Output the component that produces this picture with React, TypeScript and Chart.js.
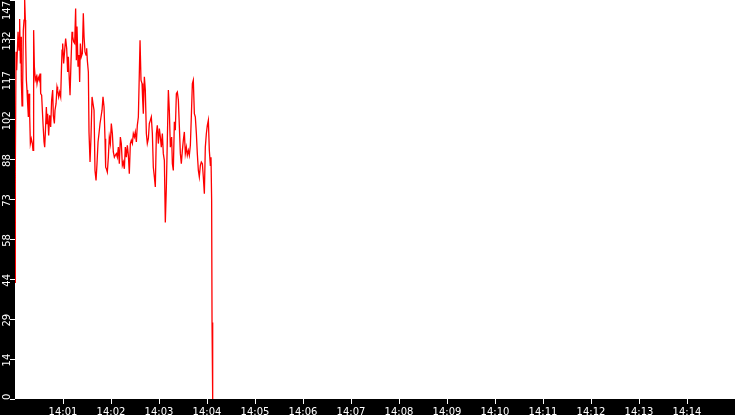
import { useEffect, useRef } from "react";
import { Chart, registerables, Plugin } from "chart.js";

Chart.register(...registerables);

// seconds after 14:00:00
const sampleSeconds = [
  0, 0.4, 1.3, 2.1, 2.9, 3.8, 5, 5.8, 6.7, 7.5, 7.9, 8.8, 9.6, 10.4, 11.3, 12.1, 12.9, 13.3, 14.2, 15,
  15.8, 16.7, 17.5, 18.3, 19.2, 20.4, 21.7, 22.5, 23.3, 24.2, 25.4, 26.7, 27.5, 28.8, 30, 31.3, 32.1, 33.3, 34.2, 35,
  36.3, 37.1, 37.9, 39.2, 40, 40.8, 42.1, 43.3, 44.6, 45.8, 47.1, 47.9, 49.2, 50, 51.3, 52.5, 53.3, 54.6, 55.8, 57.1,
  57.9, 58.8, 59.6, 60.8, 62.1, 63.3, 64.6, 65.8, 66.7, 67.9, 68.8, 70, 71.3, 72.1, 73.3, 74.6, 75.8, 76.7, 77.5, 78.8,
  80, 80.8, 81.7, 82.9, 84.2, 85.4, 86.3, 87.5, 88.8, 89.6, 90.4, 91.7, 92.5, 93.8, 95, 96.3, 97.5, 98.8, 100, 101.3,
  102.5, 103.8, 105, 106.3, 107.5, 108.8, 110, 111.3, 112.5, 113.3, 114.2, 115.4, 116.7, 117.9, 119.2, 120.4, 121.7, 122.9, 124.2, 125.4,
  126.7, 127.9, 129.2, 130.4, 131.7, 132.9, 134.2, 135.4, 136.7, 137.9, 139.2, 140.4, 141.7, 142.9, 144.2, 145.4, 146.7, 147.9, 149.2, 150.4,
  151.7, 152.9, 154.2, 155.4, 156.3, 157.5, 158.8, 159.6, 160.4, 161.7, 162.9, 164.2, 165.4, 166.7, 167.9, 169.2, 170.4, 171.7, 172.9, 174.2,
  175.4, 176.7, 177.9, 179.2, 180.4, 181.7, 182.9, 184.2, 185.4, 186.7, 187.9, 189.2, 190.4, 191.7, 192.9, 194.2, 195.8, 196.7, 197.9, 199.2,
  200.4, 201.7, 202.9, 204.2, 205.4, 206.7, 207.9, 209.2, 210.4, 211.7, 212.9, 214.2, 215.4, 216.7, 217.9, 219.2, 220.4, 221.7, 222.9, 224.2,
  225.4, 226.7, 227.9, 229.2, 230.4, 231.7, 232.9, 234.2, 235.4, 236.7, 237.9, 239.2, 240.4, 241.7, 242.9, 244.2, 245, 245.8, 246.3, 247.1,
];

const sampleValues = [
  43, 85.4, 127.9, 121.1, 127.9, 135.3, 128.5, 140, 123.6, 133.5, 117.5, 108, 116.2, 135.9, 139.6, 147, 139.6, 132.2, 117.5, 113.8,
  108.8, 103.9, 112.5, 105.1, 94.1, 95.9, 94.1, 91.6, 135.9, 122.4, 117.5, 118.7, 116.2, 118.7, 117.5, 119.9, 112.5, 111.9, 106.4, 101.5,
  94.7, 92.8, 97.8, 107.6, 101.5, 105.1, 97.1, 104.5, 100.2, 110.1, 113.8, 104.5, 101.5, 106.4, 108.8, 115, 113.8, 111.3, 113.1, 111.3,
  119.9, 128.5, 131, 123.6, 128.5, 132.8, 129.2, 120.5, 126.1, 117.5, 111.9, 124.2, 135.3, 133.5, 131.6, 131, 143.9, 124.8, 137.2, 122.4,
  126.7, 116.8, 131, 126.1, 127.3, 142.1, 133.5, 127.9, 126.7, 129.2, 124.8, 120.5, 98.4, 87.3, 96.5, 111.3, 108.8, 106.4, 84.2, 80.5,
  86.7, 94.7, 97.8, 101.5, 103.9, 106.4, 111.3, 107.6, 95.9, 85.4, 84.8, 83.6, 89.1, 96.5, 94.1, 101.5, 97.8, 91, 89.1, 89.8,
  90.4, 89.1, 92.8, 86.7, 96.5, 94.1, 86.1, 87.3, 84.8, 92.8, 89.1, 93.5, 89.8, 83, 94.1, 95.3, 94.1, 97.8, 96.5, 98.4,
  94.7, 100.8, 103.9, 119.9, 132.2, 117.5, 116.2, 110.1, 105.1, 118.7, 113.8, 97.8, 94.1, 95.9, 101.5, 102.7, 103.9, 97.8, 85.4, 81.8,
  78.1, 97.8, 100.8, 94.1, 99.6, 96.5, 92.8, 97.8, 90.4, 87.9, 65, 78.1, 95.3, 113.8, 106.4, 92.8, 96.5, 86.7, 84.2, 102.1,
  99, 112.5, 113.1, 110.1, 100.8, 90.4, 86.7, 91.6, 95.3, 98.4, 90.4, 92.8, 89.8, 91.6, 89.8, 93.5, 103.9, 116.2, 117.5, 105.1,
  103.9, 97.8, 90.4, 84.2, 81.8, 86.1, 87.3, 86.7, 81.8, 75.6, 92.8, 97.8, 100.8, 102.7, 91.6, 86.1, 89.1, 73.1, 28.2, 0,
];

const xTickSeconds = [60, 120, 180, 240, 300, 360, 420, 480, 540, 600, 660, 720, 780, 840];
const xTickLabels = [
  "14:01", "14:02", "14:03", "14:04", "14:05", "14:06", "14:07",
  "14:08", "14:09", "14:10", "14:11", "14:12", "14:13", "14:14",
];
const yTickValues = [0, 14.7, 29.4, 44.1, 58.8, 73.5, 88.2, 102.9, 117.6, 132.3, 147];
const yTickLabels = ["0", "14", "29", "44", "58", "73", "88", "102", "117", "132", "147"];

const FONT = "'DejaVu Sans', sans-serif";
const FONT_SIZE = 10;

// black page, white plotting area
const backdrop: Plugin<"line"> = {
  id: "backdrop",
  beforeDraw(chart) {
    const { ctx, chartArea, width, height } = chart;
    ctx.save();
    ctx.fillStyle = "#000";
    ctx.fillRect(0, 0, width, height);
    ctx.fillStyle = "#fff";
    ctx.fillRect(chartArea.left, chartArea.top, chartArea.right - chartArea.left, chartArea.bottom - chartArea.top);
    ctx.restore();
  },
};

// rotated y labels, kept inside the plot height
const yLabels: Plugin<"line"> = {
  id: "yLabels",
  afterDraw(chart) {
    const { ctx, chartArea } = chart;
    const scale = chart.scales.y;
    ctx.save();
    ctx.font = `${FONT_SIZE}px ${FONT}`;
    ctx.fillStyle = "#fff";
    ctx.textAlign = "center";
    ctx.textBaseline = "alphabetic";
    yTickValues.forEach((v, i) => {
      const text = yTickLabels[i];
      const half = ctx.measureText(text).width / 2;
      let y = scale.getPixelForValue(v) + 1;
      y = Math.min(Math.max(y, chartArea.top + 1 + half), chartArea.bottom + 1 - half);
      ctx.save();
      ctx.translate(chartArea.left - 5.5, y);
      ctx.rotate(-Math.PI / 2);
      ctx.fillText(text, 0, 0);
      ctx.restore();
    });
    ctx.restore();
  },
};

const App: React.FC = () => {
  const canvasRef = useRef<HTMLCanvasElement | null>(null);

  useEffect(() => {
    const canvas = canvasRef.current;
    let chart: Chart | null = null;

    if (canvas) {
      chart = new Chart(canvas, {
        type: "line",
        data: {
          datasets: [
            {
              data: sampleSeconds.map((s, i) => ({ x: s, y: sampleValues[i] })),
              borderColor: "#ff0000",
              borderWidth: 1.3,
              pointRadius: 0,
              tension: 0,
              fill: false,
            },
          ],
        },
        options: {
          animation: false,
          responsive: true,
          maintainAspectRatio: false,
          layout: { padding: 0 },
          plugins: {
            legend: { display: false },
            tooltip: { enabled: false },
          },
          scales: {
            x: {
              type: "linear",
              min: 0,
              max: 900,
              afterBuildTicks: (scale) => {
                scale.ticks = xTickSeconds.map((value) => ({ value }));
              },
              afterFit: (scale) => {
                scale.height = 16;
              },
              grid: { drawOnChartArea: false, color: "#fff", tickLength: 5 },
              border: { display: false },
              ticks: {
                color: "#fff",
                font: { family: FONT, size: FONT_SIZE },
                padding: 2,
                maxRotation: 0,
                autoSkip: false,
                callback: (value) => xTickLabels[xTickSeconds.indexOf(Number(value))],
              },
            },
            y: {
              min: 0,
              max: 147,
              afterBuildTicks: (scale) => {
                scale.ticks = yTickValues.map((value) => ({ value }));
              },
              afterFit: (scale) => {
                scale.width = 15;
              },
              grid: { drawOnChartArea: false, color: "#fff", tickLength: 5 },
              border: { display: false },
              ticks: { display: false },
            },
          },
        },
        plugins: [backdrop, yLabels],
      });
    }

    return () => {
      if (chart) {
        chart.destroy();
      }
    };
  }, []);

  return (
    <div style={{ position: "fixed", left: 0, top: 0, width: 735, height: 415, background: "#000" }}>
      <canvas ref={canvasRef}></canvas>
    </div>
  );
};

export default App;
